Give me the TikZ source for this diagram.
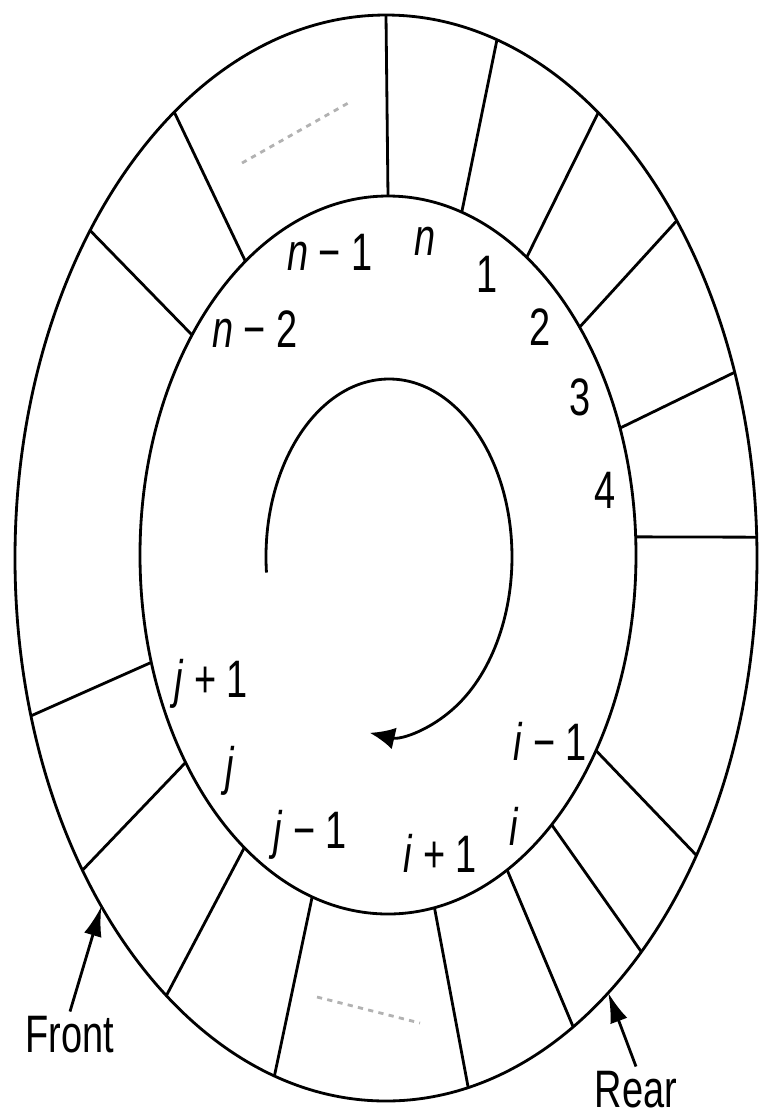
\documentclass[tikz,border=0pt]{standalone}
\usepackage{fontspec}
\usetikzlibrary{arrows.meta, positioning, calc}
\newfontfamily\lblfont[FakeStretch=0.72]{Liberation Sans}

\begin{document}
\begin{tikzpicture}[
  ring/.style={line width=0.8pt},
  lbl/.style={font=\lblfont\fontsize{15}{18}\selectfont, inner sep=1pt},
  filler/.style={gray!60, line width=0.8pt, dash pattern=on 1.5pt off 1.5pt},
  ptr/.style={line width=0.8pt, -{Latex[length=3mm, width=1.8mm]}}
]
\useasboundingbox (0,0) rectangle (7.59,-11.16);
\coordinate (ic) at (3.88,-5.55); % inner ring
\coordinate (oc) at (3.86,-5.58); % outer ring
\coordinate (ac) at (3.89,-5.57); % turning arrow

\draw[ring] (oc) ellipse [x radius=3.71, y radius=5.43];
\draw[ring] (ic) ellipse [x radius=2.48, y radius=3.59];

% slot walls
\foreach \a/\b in {90/90, 72.7/72.6, 56/55.1, 39.4/38.4, 20.7/20, 2.9/2.2,
                   -33/-33.2, -48.7/-46.5, -61.3/-59.7, -79.2/-77.2,
                   -107.8/-107.5, -125.4/-126.3, -144.7/-144.9, -162.6/-163.1,
                   142.2/142.9, 125.1/124.8}
  \draw[ring] ([shift={(ic)}]\a:2.48cm and 3.59cm) -- ([shift={(oc)}]\b:3.71cm and 5.43cm);

% empty slots
\draw[filler] (2.42,-1.63) -- (3.50,-1.02);
\draw[filler] (3.17,-9.97) -- (4.20,-10.23);

% turning direction
\draw[ring, -{Latex[length=2.5mm, width=2.2mm]}] ([shift={(ac)}]185:1.23cm and 1.78cm)
  arc[start angle=185, end angle=-99, x radius=1.23cm, y radius=1.78cm];

\node[lbl, anchor=base] (nm1) at (3.30,-2.70) {\textit{n} − 1};
\node[lbl, anchor=base] (n) at (4.25,-2.55) {\textit{n}};
\node[lbl, anchor=base] (s1) at (4.87,-2.92) {1};
\node[lbl, anchor=base] (s2) at (5.40,-3.45) {2};
\node[lbl, anchor=base] (s3) at (5.80,-4.15) {3};
\node[lbl, anchor=base] (s4) at (6.05,-5.08) {4};
\node[lbl, anchor=base] (nm2) at (2.55,-3.47) {\textit{n} − 2};
\node[lbl, anchor=base] (jp1) at (2.11,-6.97) {\textit{j} + 1};
\node[lbl, anchor=base] (j) at (2.30,-7.84) {\textit{j}};
\node[lbl, anchor=base] (jm1) at (3.10,-8.48) {\textit{j} − 1};
\node[lbl, anchor=base] (im1) at (5.50,-7.60) {\textit{i} − 1};
\node[lbl, anchor=base] (i) at (5.14,-8.45) {\textit{i}};
\node[lbl, anchor=base] (ip1) at (4.40,-8.72) {\textit{i} + 1};
\node[lbl, anchor=base] (front) at (0.70,-10.52) {Front};
\node[lbl, anchor=base] (rear) at (6.36,-11.07) {Rear};

% front and rear pointers
\coordinate (fronttip) at ([shift={(oc)}]-140.1:3.71cm and 5.43cm);
\coordinate (reartip) at ([shift={(oc)}]-53.2:3.71cm and 5.43cm);
\draw[ptr] (front.north) -- (fronttip);
\draw[ptr] (rear.north) -- (reartip);
\end{tikzpicture}
\end{document}
